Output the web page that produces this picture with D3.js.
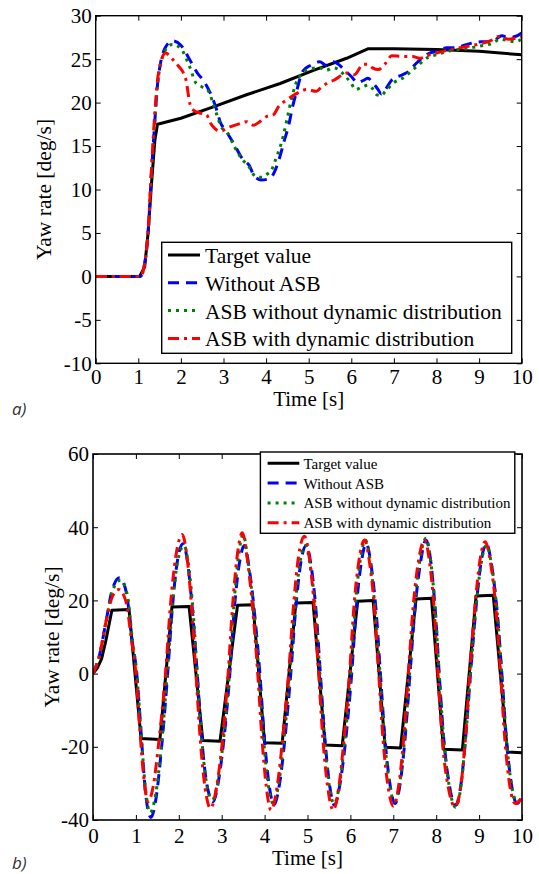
<!DOCTYPE html>
<html><head><meta charset="utf-8">
<script src="https://cdn.jsdelivr.net/npm/d3@7/dist/d3.min.js"></script>
<style>body{margin:0;background:#fff} text{font-family:"Liberation Serif","Tinos","Nimbus Roman","Times New Roman","DejaVu Serif",serif;}</style>
</head><body>
<svg id="c" width="539" height="874"></svg>
<script>
// ---------------- DATA ----------------
const seriesNames = ["Target value", "Without ASB", "ASB without dynamic distribution", "ASB with dynamic distribution"];
const timeTicks = [0, 1, 2, 3, 4, 5, 6, 7, 8, 9, 10];
const yTicksA = [-10, -5, 0, 5, 10, 15, 20, 25, 30];
const yTicksB = [-40, -20, 0, 20, 40, 60];
const xLabel = "Time [s]";
const yLabel = "Yaw rate [deg/s]";

// Panel a) step steer: [time s, yaw rate deg/s]
const aTarget = [[0,0],[1.03,0],[1.15,1.1],[1.23,5],[1.31,10.7],[1.39,15.7],[1.45,17.5],[2,18.2],[2.76,19.5],[3.54,20.9],[4.33,22.2],[5.11,23.7],[5.89,25.1],[6.4,26.2],[7,26.2],[8,26.1],[9,25.9],[9.5,25.7],[10,25.5]];
const aWithout = [[0,0],[1.05,0],[1.15,1.5],[1.23,5],[1.31,12],[1.39,18],[1.45,22],[1.52,24.5],[1.62,26.2],[1.8,27.1],[2.0,26.6],[2.2,25],[2.4,23.3],[2.52,22.6],[2.65,21.5],[2.76,20.3],[2.85,19],[2.92,17.8],[3.05,16.8],[3.25,15.2],[3.45,13.5],[3.6,12.8],[3.73,11.5],[3.89,11.1],[4.05,11.2],[4.15,11.6],[4.3,13.4],[4.42,15.5],[4.54,17.6],[4.62,19.5],[4.7,21],[4.86,23.6],[5.05,24.3],[5.26,24.7],[5.4,24.3],[5.58,24.7],[5.7,24.4],[5.83,23.8],[6.0,23],[6.15,22.3],[6.3,22.6],[6.39,22.8],[6.5,22.3],[6.63,21.5],[6.7,21],[6.8,21.5],[6.95,22.6],[7.2,23.2],[7.35,23.6],[7.52,24.5],[7.84,25.7],[8.0,25.9],[8.24,26.3],[8.45,26.3],[8.65,26.6],[9.05,27],[9.3,27],[9.53,27.7],[9.7,27.5],[9.85,27.6],[10,28]];
const aNoDyn = [[0,0],[1.05,0],[1.15,1.5],[1.23,5],[1.31,12],[1.39,18],[1.45,22],[1.52,24.3],[1.62,25.9],[1.8,26.7],[2.0,26.2],[2.2,24.2],[2.36,22.2],[2.5,21.8],[2.65,21.3],[2.76,19.8],[2.85,18.5],[2.95,17.2],[3.1,16.5],[3.25,15],[3.45,13.4],[3.6,12.6],[3.75,11.5],[3.9,11.4],[4.0,11.7],[4.12,12.2],[4.25,13.8],[4.4,16.1],[4.5,18.3],[4.6,20.5],[4.7,22.2],[4.86,23.4],[5.05,23.9],[5.26,24.0],[5.4,23.7],[5.58,24.0],[5.7,23.8],[5.83,23.2],[6.0,22.2],[6.1,21.5],[6.25,21.8],[6.4,22.0],[6.5,21.6],[6.6,20.9],[6.7,20.8],[6.8,21.3],[7.0,22.3],[7.2,22.8],[7.5,24],[7.8,25.2],[8.0,25.5],[8.24,25.9],[8.5,26.1],[8.7,26.2],[9.0,26.5],[9.3,26.8],[9.5,27.3],[9.7,27.1],[9.85,27.0],[10,27.3]];
const aDyn = [[0,0],[1.05,0],[1.15,1.5],[1.23,5.2],[1.31,12.5],[1.39,19],[1.45,22.5],[1.52,24.5],[1.64,25.7],[1.8,25],[1.96,24.1],[2.05,23.5],[2.12,22.6],[2.21,19.9],[2.3,19.1],[2.44,18.8],[2.6,18.6],[2.7,17.6],[2.8,17],[2.92,16.7],[3.15,17.2],[3.4,17.6],[3.54,17.8],[3.7,17.4],[3.85,17.8],[4.01,18.4],[4.17,18.6],[4.3,19.6],[4.48,20.3],[4.7,21],[4.95,21.5],[5.18,21.3],[5.3,21.8],[5.42,22.2],[5.6,22.6],[5.89,23.4],[6.07,23.2],[6.28,24.4],[6.39,24.4],[6.5,24],[6.63,23.8],[6.8,24.5],[6.95,25.4],[7.2,25.3],[7.44,25.3],[7.6,25.1],[7.84,25.5],[8.24,26],[8.65,26.4],[9.05,26.8],[9.3,27.2],[9.45,27.6],[9.7,27.3],[10,27.6]];

// Panel b) sine steer: [time s, yaw rate deg/s]
const bTarget = [[0,0],[0.1,1.5],[0.2,4],[0.3,9],[0.44,17.3],[0.84,17.5],[1.12,-17.7],[1.56,-18],[1.84,18.2],[2.24,18.3],[2.56,-18.3],[2.96,-18.5],[3.37,18.7],[3.73,18.8],[4.0,-18.9],[4.41,-19],[4.73,19.3],[5.13,19.4],[5.41,-19.5],[5.81,-19.7],[6.17,19.8],[6.53,20],[6.81,-20.1],[7.17,-20.3],[7.53,20.4],[7.89,20.6],[8.17,-20.7],[8.61,-20.9],[8.93,21.2],[9.33,21.4],[9.66,-21.4],[10,-21.6]];
const bWithout = [[0,0],[0.15,5],[0.3,14],[0.45,23],[0.62,26.2],[0.78,22],[0.9,10],[1.02,0],[1.12,-16],[1.22,-32],[1.35,-39.3],[1.47,-34],[1.6,-20],[1.74,0],[1.85,18],[1.97,31],[2.1,35.5],[2.22,29],[2.32,17],[2.43,0],[2.53,-17],[2.65,-30],[2.8,-35],[2.93,-29],[3.06,-17],[3.19,0],[3.29,17],[3.41,30],[3.53,35],[3.65,28],[3.77,16],[3.89,0],[3.99,-17],[4.1,-30],[4.22,-35.8],[4.35,-30],[4.48,-17],[4.61,0],[4.72,17],[4.84,30],[4.97,35],[5.09,29],[5.2,17],[5.3,0],[5.4,-17],[5.51,-30],[5.63,-36],[5.76,-30],[5.9,-17],[6.03,0],[6.13,17],[6.25,30],[6.37,35.5],[6.49,29],[6.6,17],[6.7,0],[6.8,-17],[6.92,-30],[7.04,-35.5],[7.16,-30],[7.28,-17],[7.39,0],[7.5,17],[7.63,30],[7.76,36.5],[7.88,30],[7.98,17],[8.07,0],[8.17,-17],[8.3,-30],[8.45,-36],[8.58,-30],[8.69,-17],[8.8,0],[8.92,17],[9.04,30],[9.17,35.5],[9.3,29],[9.42,17],[9.53,0],[9.63,-17],[9.75,-30],[9.88,-35.5],[10,-34]];
const bNoDyn = [[0,0],[0.15,5],[0.3,14],[0.45,22.5],[0.64,25.5],[0.8,21.5],[0.92,9],[1.02,0],[1.12,-16],[1.22,-31],[1.33,-38],[1.46,-33],[1.6,-19],[1.73,0],[1.85,18],[1.97,30.5],[2.12,35],[2.24,28.5],[2.34,16],[2.43,0],[2.53,-17],[2.64,-29.5],[2.78,-34.5],[2.92,-29],[3.05,-17],[3.18,0],[3.28,18],[3.39,32],[3.5,38],[3.62,30],[3.75,17],[3.87,0],[3.97,-17],[4.08,-30],[4.2,-35.5],[4.33,-30],[4.46,-17],[4.59,0],[4.7,17],[4.82,30],[4.95,35],[5.07,29],[5.19,17],[5.29,0],[5.39,-17],[5.5,-30],[5.62,-35.5],[5.75,-30],[5.88,-17],[6.01,0],[6.11,18],[6.23,31],[6.35,36.5],[6.47,30],[6.58,17],[6.69,0],[6.79,-17],[6.91,-30],[7.03,-35],[7.15,-30],[7.27,-17],[7.38,0],[7.49,18],[7.62,31],[7.76,37],[7.88,30],[7.98,17],[8.07,0],[8.17,-17],[8.3,-30.5],[8.45,-36.5],[8.58,-30.5],[8.69,-17],[8.8,0],[8.92,17],[9.04,29.5],[9.17,35],[9.3,29],[9.42,17],[9.53,0],[9.63,-17],[9.75,-30],[9.87,-35],[10,-34]];
const bDyn = [[0,0],[0.15,5],[0.3,14],[0.45,21],[0.6,23],[0.76,20],[0.9,9],[1.0,0],[1.09,-15],[1.18,-28],[1.28,-35],[1.4,-31],[1.54,-18],[1.69,0],[1.8,18],[1.93,32],[2.08,38],[2.2,31],[2.3,18],[2.4,0],[2.5,-18],[2.61,-31],[2.74,-36.8],[2.88,-31],[3.02,-18],[3.15,0],[3.25,18],[3.36,32],[3.48,38.5],[3.6,31],[3.72,18],[3.84,0],[3.94,-18],[4.04,-31],[4.15,-37.3],[4.29,-31],[4.42,-18],[4.56,0],[4.67,18],[4.79,32],[4.93,37.5],[5.05,31],[5.16,18],[5.26,0],[5.36,-18],[5.47,-31],[5.6,-37.3],[5.73,-31],[5.85,-18],[5.98,0],[6.08,18],[6.2,31],[6.33,36.5],[6.45,30],[6.56,18],[6.66,0],[6.76,-18],[6.88,-31],[7.0,-36.2],[7.12,-31],[7.24,-18],[7.35,0],[7.46,18],[7.59,31],[7.73,36.5],[7.85,30],[7.95,18],[8.04,0],[8.14,-18],[8.28,-31],[8.44,-36.4],[8.57,-31],[8.68,-18],[8.78,0],[8.9,18],[9.02,31],[9.14,36],[9.27,30],[9.39,18],[9.5,0],[9.6,-18],[9.72,-31],[9.84,-35.5],[9.93,-35],[10,-33]];

// ---------------- STYLE ----------------
const colors = ["#000000", "#0000ff", "#008000", "#ff0000"];
const dashes = [null, "11,7", "3,5", "11,5,3,5"];
const serif = '"Liberation Serif", Tinos, "Nimbus Roman", "Times New Roman", "DejaVu Serif", serif';

const svg = d3.select("#c");
svg.append("rect").attr("width", 539).attr("height", 874).attr("fill", "#fff");

function panel(o) {
  const g = svg.append("g");
  const x = d3.scaleLinear().domain([0, 10]).range([o.x0, o.x1]);
  const y = d3.scaleLinear().domain(o.yDom).range([o.y1, o.y0]);
  const cid = "clip" + o.id;
  svg.append("clipPath").attr("id", cid).append("rect")
    .attr("x", o.x0).attr("y", o.y0).attr("width", o.x1 - o.x0).attr("height", o.y1 - o.y0);

  const fmt = d => String(d);
  const ax = (gen, tr) => g.append("g").attr("transform", tr).call(gen)
      .attr("font-family", null).attr("font-size", null)
      .call(s => s.select(".domain").remove())
      .call(s => s.selectAll("line").attr("stroke", "#000").attr("stroke-width", 1))
      .call(s => s.selectAll("text").style("font-family", serif).style("font-size", o.tickFont + "px").attr("fill", "#000"));
  const bx = ax(d3.axisBottom(x).tickValues(timeTicks).tickSize(-5).tickPadding(0).tickFormat(fmt), `translate(0,${o.y1})`);
  bx.selectAll("text").attr("dy", null).attr("y", o.xTickBase);
  ax(d3.axisTop(x).tickValues(timeTicks).tickSize(-5).tickFormat(""), `translate(0,${o.y0})`);
  const ly = ax(d3.axisLeft(y).tickValues(o.yTicks).tickSize(-5).tickPadding(4).tickFormat(fmt), `translate(${o.x0},0)`);
  ly.selectAll("text").attr("dy", "0.33em");
  ax(d3.axisRight(y).tickValues(o.yTicks).tickSize(-5).tickFormat(""), `translate(${o.x1},0)`);

  const lg = g.append("g").attr("clip-path", `url(#${cid})`);
  o.series.forEach((s, i) => {
    const line = d3.line().x(d => x(d[0])).y(d => y(d[1]))
      .curve(i === 0 ? d3.curveLinear : d3.curveMonotoneX);
    lg.append("path").datum(s).attr("d", line).attr("fill", "none")
      .attr("stroke", colors[i]).attr("stroke-width", 3)
      .attr("stroke-dasharray", dashes[i]).attr("stroke-linejoin", "round");
  });

  g.append("rect").attr("x", o.x0).attr("y", o.y0).attr("width", o.x1 - o.x0).attr("height", o.y1 - o.y0)
    .attr("fill", "none").attr("stroke", "#000").attr("stroke-width", o.boxW);

  const L = o.leg;
  const lgd = g.append("g");
  lgd.append("rect").attr("x", L.x0).attr("y", L.y0).attr("width", L.x1 - L.x0).attr("height", L.y1 - L.y0)
    .attr("fill", "#fff").attr("stroke", "#000").attr("stroke-width", L.sw);
  seriesNames.forEach((name, i) => {
    const cy = L.rowY0 + i * L.rowH;
    lgd.append("line").attr("x1", L.lx0).attr("x2", L.lx1).attr("y1", cy).attr("y2", cy)
      .attr("stroke", colors[i]).attr("stroke-width", 3).attr("stroke-dasharray", dashes[i]);
    lgd.append("text").attr("x", L.tx).attr("y", cy + L.base).text(name)
      .style("font-family", serif).style("font-size", L.font + "px").attr("fill", "#000");
  });

  g.append("text").attr("x", (o.x0 + o.x1) / 2).attr("y", o.xLabY).attr("text-anchor", "middle")
    .style("font-family", serif).style("font-size", "21px").text(xLabel);
  g.append("text").attr("transform", `translate(${o.yLabX},${(o.y0 + o.y1) / 2}) rotate(-90)`)
    .attr("text-anchor", "middle").style("font-family", serif).style("font-size", "21.5px").text(yLabel);
  g.append("text").attr("x", 12).attr("y", o.tagY).text(o.tag)
    .style("font-family", "'Open Sans','Noto Sans',sans-serif").style("font-style", "italic")
    .style("font-size", "17px").attr("fill", "#333");
}

panel({
  id: "a", x0: 95.7, x1: 521.7, y0: 15.7, y1: 363.3, yDom: [-10, 30], yTicks: yTicksA,
  tickFont: 21, xTickBase: 21, boxW: 1.4,
  series: [aTarget, aWithout, aNoDyn, aDyn],
  leg: { x0: 161.7, x1: 511.7, y0: 242.3, y1: 353.3, sw: 1.4, rowY0: 255, rowH: 27.8,
         lx0: 168, lx1: 200, tx: 205, font: 21.5, base: 8 },
  xLabY: 406, yLabX: 51, tag: "a)", tagY: 415
});

panel({
  id: "b", x0: 93, x1: 522, y0: 454, y1: 820, yDom: [-40, 60], yTicks: yTicksB,
  tickFont: 21, xTickBase: 23, boxW: 1.6,
  series: [bTarget, bWithout, bNoDyn, bDyn],
  leg: { x0: 260.4, x1: 514.8, y0: 452, y1: 533.3, sw: 1.4, rowY0: 463.3, rowH: 19.8,
         lx0: 267.6, lx1: 299.3, tx: 303.4, font: 15, base: 5.5 },
  xLabY: 865, yLabX: 59, tag: "b)", tagY: 869
});
</script>
</body></html>
